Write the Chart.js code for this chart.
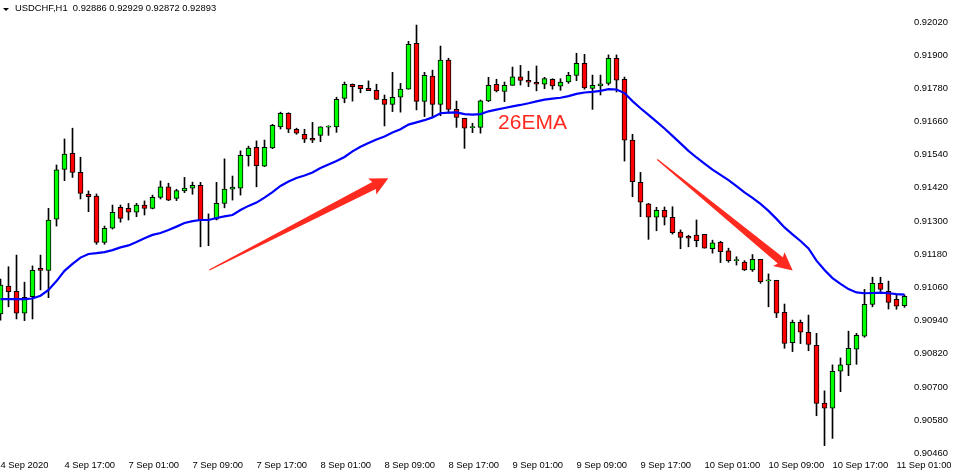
<!DOCTYPE html>
<html>
<head>
<meta charset="utf-8">
<script src="https://cdn.jsdelivr.net/npm/chart.js@4.4.1/dist/chart.umd.min.js"></script>
<style>
  html, body { margin: 0; padding: 0; background: #fff; }
  #wrap { width: 954px; height: 474px; }
</style>
</head>
<body>
<div id="wrap"><canvas id="chart"></canvas></div>
<script>
// USDCHF H1 candles, 4 Sep 09:00 .. 11 Sep 02:00 (one entry per bar)
const titleText = 'USDCHF,H1  0.92886 0.92929 0.92872 0.92893';

// x-axis label every 8 bars
const timeTicks = ['4 Sep 2020', '4 Sep 17:00', '7 Sep 01:00', '7 Sep 09:00', '7 Sep 17:00',
    '8 Sep 01:00', '8 Sep 09:00', '8 Sep 17:00', '9 Sep 01:00', '9 Sep 09:00', '9 Sep 17:00',
    '10 Sep 01:00', '10 Sep 09:00', '10 Sep 17:00', '11 Sep 01:00'];
const priceTicks = [0.92020, 0.91900, 0.91780, 0.91660, 0.91540, 0.91420, 0.91300,
    0.91180, 0.91060, 0.90940, 0.90820, 0.90700, 0.90580, 0.90460];

const opens = [
    0.90964, 0.91065, 0.91046, 0.90967, 0.91027, 0.91129, 0.91122, 0.91307, 0.91487, 0.91545,
    0.91476, 0.91397, 0.91390, 0.91223, 0.91274, 0.91350, 0.91346, 0.91332, 0.91358, 0.91346,
    0.91386, 0.91424, 0.91382, 0.91409, 0.91419, 0.91429, 0.91304, 0.91307, 0.91364, 0.91415,
    0.91419, 0.91537, 0.91567, 0.91499, 0.91565, 0.91641, 0.91690, 0.91632, 0.91614, 0.91599,
    0.91610, 0.91640, 0.91641, 0.91744, 0.91795, 0.91791, 0.91780, 0.91773, 0.91740, 0.91722,
    0.91748, 0.91777, 0.91943, 0.91733, 0.91824, 0.91722, 0.91882, 0.91704, 0.91672, 0.91638,
    0.91639, 0.91735, 0.91795, 0.91769, 0.91791, 0.91822, 0.91809, 0.91802, 0.91795, 0.91813,
    0.91788, 0.91803, 0.91827, 0.91871, 0.91780, 0.91789, 0.91798, 0.91889, 0.91813, 0.91593,
    0.91440, 0.91362, 0.91314, 0.91339, 0.91314, 0.91260, 0.91245, 0.91249, 0.91252, 0.91200,
    0.91223, 0.91192, 0.91157, 0.91152, 0.91123, 0.91162, 0.91084, 0.91086, 0.90970, 0.90860,
    0.90934, 0.90898, 0.90851, 0.90642, 0.90623, 0.90757, 0.90780, 0.90837, 0.90884, 0.90999,
    0.91075, 0.91046, 0.91017, 0.90994];
const highs = [
    0.91090, 0.91135, 0.91177, 0.91079, 0.91138, 0.91177, 0.91346, 0.91503, 0.91597, 0.91636,
    0.91531, 0.91409, 0.91398, 0.91282, 0.91358, 0.91358, 0.91364, 0.91364, 0.91373, 0.91394,
    0.91445, 0.91437, 0.91415, 0.91458, 0.91441, 0.91440, 0.91326, 0.91440, 0.91525, 0.91463,
    0.91554, 0.91571, 0.91590, 0.91593, 0.91650, 0.91694, 0.91692, 0.91636, 0.91632, 0.91657,
    0.91641, 0.91645, 0.91748, 0.91803, 0.91796, 0.91791, 0.91807, 0.91795, 0.91756, 0.91838,
    0.91798, 0.91950, 0.92009, 0.91838, 0.91846, 0.91933, 0.91889, 0.91734, 0.91672, 0.91654,
    0.91738, 0.91820, 0.91813, 0.91803, 0.91857, 0.91863, 0.91842, 0.91861, 0.91820, 0.91815,
    0.91815, 0.91838, 0.91907, 0.91903, 0.91828, 0.91828, 0.91901, 0.91901, 0.91821, 0.91614,
    0.91476, 0.91364, 0.91350, 0.91351, 0.91352, 0.91268, 0.91249, 0.91304, 0.91252, 0.91231,
    0.91227, 0.91202, 0.91171, 0.91157, 0.91179, 0.91162, 0.91109, 0.91086, 0.91000, 0.90942,
    0.90942, 0.90960, 0.90894, 0.90686, 0.90780, 0.90805, 0.90902, 0.90894, 0.91053, 0.91097,
    0.91097, 0.91083, 0.91033, 0.91033];
const lows = [
    0.90942, 0.90990, 0.90946, 0.90940, 0.90946, 0.91051, 0.91023, 0.91282, 0.91446, 0.91458,
    0.91380, 0.91334, 0.91216, 0.91216, 0.91271, 0.91296, 0.91304, 0.91316, 0.91322, 0.91344,
    0.91380, 0.91374, 0.91374, 0.91403, 0.91397, 0.91207, 0.91211, 0.91304, 0.91348, 0.91376,
    0.91394, 0.91499, 0.91424, 0.91497, 0.91562, 0.91633, 0.91620, 0.91614, 0.91584, 0.91584,
    0.91587, 0.91610, 0.91621, 0.91728, 0.91734, 0.91764, 0.91772, 0.91740, 0.91644, 0.91696,
    0.91694, 0.91777, 0.91702, 0.91678, 0.91678, 0.91681, 0.91690, 0.91639, 0.91563, 0.91620,
    0.91618, 0.91732, 0.91767, 0.91732, 0.91791, 0.91792, 0.91786, 0.91771, 0.91779, 0.91777,
    0.91773, 0.91798, 0.91808, 0.91777, 0.91704, 0.91756, 0.91792, 0.91767, 0.91517, 0.91388,
    0.91316, 0.91234, 0.91265, 0.91286, 0.91253, 0.91200, 0.91207, 0.91207, 0.91202, 0.91184,
    0.91150, 0.91151, 0.91141, 0.91121, 0.91118, 0.91075, 0.90990, 0.90951, 0.90840, 0.90828,
    0.90857, 0.90831, 0.90596, 0.90488, 0.90514, 0.90683, 0.90741, 0.90782, 0.90880, 0.90990,
    0.91039, 0.90982, 0.90981, 0.90988];
const closes = [
    0.91069, 0.91045, 0.90967, 0.91024, 0.91122, 0.91122, 0.91304, 0.91485, 0.91542, 0.91476,
    0.91400, 0.91388, 0.91223, 0.91274, 0.91332, 0.91310, 0.91332, 0.91358, 0.91346, 0.91386,
    0.91424, 0.91376, 0.91410, 0.91419, 0.91429, 0.91304, 0.91304, 0.91364, 0.91416, 0.91423,
    0.91538, 0.91564, 0.91500, 0.91567, 0.91646, 0.91690, 0.91632, 0.91618, 0.91596, 0.91593,
    0.91641, 0.91640, 0.91740, 0.91795, 0.91786, 0.91779, 0.91772, 0.91740, 0.91722, 0.91748,
    0.91777, 0.91939, 0.91733, 0.91827, 0.91722, 0.91882, 0.91704, 0.91675, 0.91636, 0.91638,
    0.91735, 0.91791, 0.91771, 0.91791, 0.91822, 0.91809, 0.91802, 0.91795, 0.91815, 0.91789,
    0.91803, 0.91827, 0.91871, 0.91782, 0.91791, 0.91796, 0.91889, 0.91810, 0.91593, 0.91443,
    0.91368, 0.91314, 0.91339, 0.91314, 0.91258, 0.91241, 0.91238, 0.91229, 0.91202, 0.91221,
    0.91189, 0.91157, 0.91157, 0.91123, 0.91162, 0.91081, 0.91084, 0.90967, 0.90858, 0.90934,
    0.90898, 0.90854, 0.90641, 0.90623, 0.90757, 0.90780, 0.90840, 0.90887, 0.90999, 0.91075,
    0.91053, 0.91006, 0.90992, 0.91028];
// 26 period EMA as drawn on the chart
const ema26 = [
    0.91018, 0.91018, 0.91018, 0.91018, 0.91020, 0.91030, 0.91051, 0.91083, 0.91120, 0.91145,
    0.91168, 0.91181, 0.91184, 0.91188, 0.91195, 0.91205, 0.91212, 0.91224, 0.91238, 0.91250,
    0.91257, 0.91268, 0.91280, 0.91293, 0.91300, 0.91304, 0.91304, 0.91311, 0.91317, 0.91322,
    0.91340, 0.91355, 0.91367, 0.91385, 0.91405, 0.91427, 0.91443, 0.91456, 0.91465, 0.91476,
    0.91492, 0.91505, 0.91517, 0.91532, 0.91552, 0.91569, 0.91582, 0.91595, 0.91606, 0.91620,
    0.91632, 0.91649, 0.91657, 0.91665, 0.91675, 0.91690, 0.91692, 0.91693, 0.91687, 0.91685,
    0.91687, 0.91697, 0.91703, 0.91709, 0.91715, 0.91720, 0.91726, 0.91733, 0.91739, 0.91743,
    0.91746, 0.91752, 0.91760, 0.91765, 0.91767, 0.91771, 0.91777, 0.91776, 0.91763, 0.91734,
    0.91708, 0.91684, 0.91660, 0.91635, 0.91608, 0.91581, 0.91554, 0.91530, 0.91508, 0.91486,
    0.91467, 0.91448, 0.91426, 0.91404, 0.91384, 0.91362, 0.91337, 0.91308, 0.91277, 0.91252,
    0.91228, 0.91201, 0.91157, 0.91123, 0.91094, 0.91073, 0.91054, 0.91042, 0.91039, 0.91040,
    0.91041, 0.91039, 0.91036, 0.91034];

// annotations in data units: [bar index, price]
const emaNote = { text: '26EMA', bar: 66.5, price: 0.91655 };
const trendArrows = [
    { from: [26.1, 0.91123], to: [48.475, 0.91455] },
    { from: [82.1, 0.91523], to: [99.025, 0.91121] }
];

const FONT = '"Liberation Sans", Arial, sans-serif';
const BULL = '#00ff00', BEAR = '#ff0000', ARROW_RED = '#ff2a1f';

function drawArrow(ctx, x1, y1, x2, y2) {
    const len = Math.hypot(x2 - x1, y2 - y1);
    const ux = (x2 - x1) / len, uy = (y2 - y1) / len;
    const nx = -uy, ny = ux;
    const headLen = 16, headHalf = 9, shaftEnd = 4, shaftStart = 0.6;
    const bx = x2 - ux * headLen, by = y2 - uy * headLen;
    ctx.beginPath();
    ctx.moveTo(x1 + nx * shaftStart, y1 + ny * shaftStart);
    ctx.lineTo(bx + nx * shaftEnd, by + ny * shaftEnd);
    ctx.lineTo(bx + nx * headHalf - ux * 2, by + ny * headHalf - uy * 2);
    ctx.lineTo(x2, y2);
    ctx.lineTo(bx - nx * headHalf - ux * 2, by - ny * headHalf - uy * 2);
    ctx.lineTo(bx - nx * shaftEnd, by - ny * shaftEnd);
    ctx.lineTo(x1 - nx * shaftStart, y1 - ny * shaftStart);
    ctx.closePath();
    ctx.fill();
}

const overlay = {
    id: 'overlay',
    afterDatasetsDraw(chart) {
        const { ctx, scales: { x, y } } = chart;
        ctx.save();
        ctx.fillStyle = ARROW_RED;
        trendArrows.forEach(a => drawArrow(ctx,
            x.getPixelForValue(a.from[0]), y.getPixelForValue(a.from[1]),
            x.getPixelForValue(a.to[0]), y.getPixelForValue(a.to[1])));
        ctx.font = '21px ' + FONT;
        ctx.textAlign = 'center';
        ctx.textBaseline = 'middle';
        ctx.fillText(emaNote.text, x.getPixelForValue(emaNote.bar), y.getPixelForValue(emaNote.price));
        ctx.restore();
    },
    afterDraw(chart) {
        const ctx = chart.ctx;
        ctx.save();
        ctx.fillStyle = '#000';
        ctx.beginPath();
        ctx.moveTo(3, 8); ctx.lineTo(9, 8); ctx.lineTo(6, 11); ctx.closePath();
        ctx.fill();
        ctx.font = '9.4px ' + FONT;
        ctx.textAlign = 'left';
        ctx.textBaseline = 'middle';
        ctx.fillText(titleText, 15, 8);
        ctx.restore();
    }
};

const idx = opens.map((_, i) => i);

new Chart(document.getElementById('chart'), {
    type: 'bar',
    data: {
        datasets: [
            {
                type: 'line',
                label: '26EMA',
                data: idx.map(i => ({ x: i, y: ema26[i] })),
                borderColor: '#0000ff',
                borderWidth: 2.2,
                pointRadius: 0,
                tension: 0,
                order: 0
            },
            {
                label: 'body',
                data: idx.map(i => ({ x: i, y: [opens[i], closes[i]] })),
                backgroundColor: idx.map(i => closes[i] >= opens[i] ? BULL : BEAR),
                borderColor: '#000',
                borderWidth: 1,
                borderSkipped: false,
                barThickness: 5,
                minBarLength: 1,
                grouped: false,
                order: 1
            },
            {
                label: 'wick',
                data: idx.map(i => ({ x: i, y: [lows[i], highs[i]] })),
                backgroundColor: '#000',
                borderWidth: 0,
                barThickness: 1,
                grouped: false,
                order: 2
            }
        ]
    },
    options: {
        responsive: true,
        maintainAspectRatio: false,
        devicePixelRatio: 1,
        animation: false,
        events: [],
        layout: { padding: 0 },
        plugins: { legend: { display: false }, tooltip: { enabled: false } },
        scales: {
            x: {
                type: 'linear',
                min: -0.0625,
                max: 113.6875,
                offset: false,
                grid: { display: false, drawTicks: false },
                border: { display: false },
                ticks: {
                    autoSkip: false,
                    maxRotation: 0,
                    align: 'start',
                    padding: 4,
                    color: '#000',
                    font: { family: FONT, size: 9.4 },
                    callback: v => timeTicks[Math.round(v / 8)]
                },
                afterBuildTicks: s => { s.ticks = timeTicks.map((_, j) => ({ value: j * 8 })); },
                afterFit: s => { s.height = 18; s.paddingLeft = 0; s.paddingRight = 0; }
            },
            y: {
                position: 'right',
                min: 0.904504,
                max: 0.920996,
                grid: { display: false, drawTicks: false },
                border: { display: false },
                ticks: {
                    padding: 4,
                    color: '#000',
                    font: { family: FONT, size: 9.4 },
                    callback: v => v.toFixed(5)
                },
                afterBuildTicks: s => { s.ticks = priceTicks.map(v => ({ value: v })); },
                afterFit: s => { s.width = 44; s.paddingTop = 0; s.paddingBottom = 0; }
            }
        }
    },
    plugins: [overlay]
});
</script>
</body>
</html>
